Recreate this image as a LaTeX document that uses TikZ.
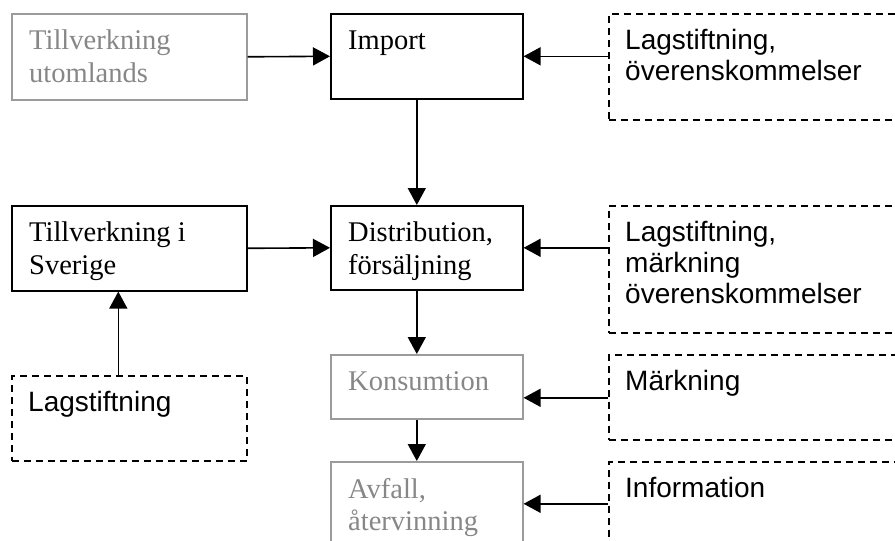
\documentclass[tikz,border=0pt]{standalone}
\usepackage{fontspec}
\setmainfont{Liberation Serif}
\setsansfont{Liberation Sans}
\usepackage{tikz}
\usetikzlibrary{arrows.meta}
\usepackage{xcolor}
\definecolor{faded}{RGB}{155,155,155}
\definecolor{fadedtext}{RGB}{135,135,135}

\begin{document}
\begin{tikzpicture}[x=1pt,y=-1pt,
  box/.style={draw, line width=1.6pt, anchor=north west, inner sep=0pt},
  fadedbox/.style={box, draw=faded},
  dashbox/.style={box, dash pattern=on 7pt off 5pt},
  sertxt/.style={anchor=north west, inner sep=0pt, align=left, font=\fontsize{28.5}{32.5}\selectfont},
  santxt/.style={anchor=north west, inner sep=0pt, align=left, font=\sffamily\fontsize{28}{31}\selectfont},
  arr/.style={line width=1.6pt, -{Triangle[length=17pt,width=18pt]}}]
\useasboundingbox (0,0) rectangle (895,541);
% left column
\node[fadedbox, minimum width=235pt, minimum height=86pt] (tu) at (11,13) {};
\node[sertxt, text=fadedtext] (tu-t) at ([xshift=18pt,yshift=-17pt]tu.north west) {Tillverkning\\utomlands};
\node[box, minimum width=235pt, minimum height=85pt] (tis) at (11,205) {};
\node[sertxt] (tis-t) at ([xshift=18pt,yshift=-17pt]tis.north west) {Tillverkning i\\Sverige};
\node[dashbox, minimum width=235pt, minimum height=85pt] (lagC) at (11,375) {};
\node[santxt] (lagC-t) at ([xshift=17pt,yshift=-16pt]lagC.north west) {Lagstiftning};
% middle column
\node[box, minimum width=192pt, minimum height=85pt] (imp) at (330,13) {};
\node[sertxt] (imp-t) at ([xshift=18pt,yshift=-18pt]imp.north west) {Import};
\node[box, minimum width=192pt, minimum height=84pt] (dist) at (330,205) {};
\node[sertxt] (dist-t) at ([xshift=18pt,yshift=-17pt]dist.north west) {Distribution,\\försäljning};
\node[fadedbox, minimum width=192pt, minimum height=64pt] (kons) at (330,354) {};
\node[sertxt, text=fadedtext] (kons-t) at ([xshift=18pt,yshift=-17pt]kons.north west) {Konsumtion};
\node[fadedbox, minimum width=192pt, minimum height=84pt] (avf) at (330,461) {};
\node[sertxt, text=fadedtext] (avf-t) at ([xshift=18pt,yshift=-17pt]avf.north west) {Avfall,\\återvinning};
% right column
\node[dashbox, minimum width=300pt, minimum height=106pt] (lagA) at (608,13) {};
\node[santxt] (lagA-t) at ([xshift=17pt,yshift=-16pt]lagA.north west) {Lagstiftning,\\överenskommelser};
\node[dashbox, minimum width=300pt, minimum height=127pt] (lagB) at (608,205) {};
\node[santxt] (lagB-t) at ([xshift=17pt,yshift=-16pt]lagB.north west) {Lagstiftning,\\märkning\\överenskommelser};
\node[dashbox, minimum width=300pt, minimum height=85pt] (mark) at (608,354) {};
\node[santxt] (mark-t) at ([xshift=17pt,yshift=-16pt]mark.north west) {Märkning};
\node[dashbox, minimum width=300pt, minimum height=100pt] (info) at (608,461) {};
\node[santxt] (info-t) at ([xshift=17pt,yshift=-16pt]info.north west) {Information};
% connectors
\draw[arr] (tu.east) -- (imp.west);
\draw[arr] (imp.east -| lagA.west) -- (imp.east);
\draw[arr] ([xshift=-10pt]imp.south) -- ([xshift=-10pt]dist.north);
\draw[arr] (tis.east) -- (dist.west);
\draw[arr] (dist.east -| lagB.west) -- (dist.east);
\draw[arr] ([xshift=-11pt]lagC.north) -- ([xshift=-11pt]tis.south);
\draw[arr] ([xshift=-10pt]dist.south) -- ([xshift=-10pt]kons.north);
\draw[arr] ([yshift=-11pt]kons.east -| mark.west) -- ([yshift=-11pt]kons.east);
\draw[arr] ([xshift=-10pt]kons.south) -- ([xshift=-10pt]avf.north);
\draw[arr] (avf.east -| info.west) -- (avf.east);
\end{tikzpicture}
\end{document}
